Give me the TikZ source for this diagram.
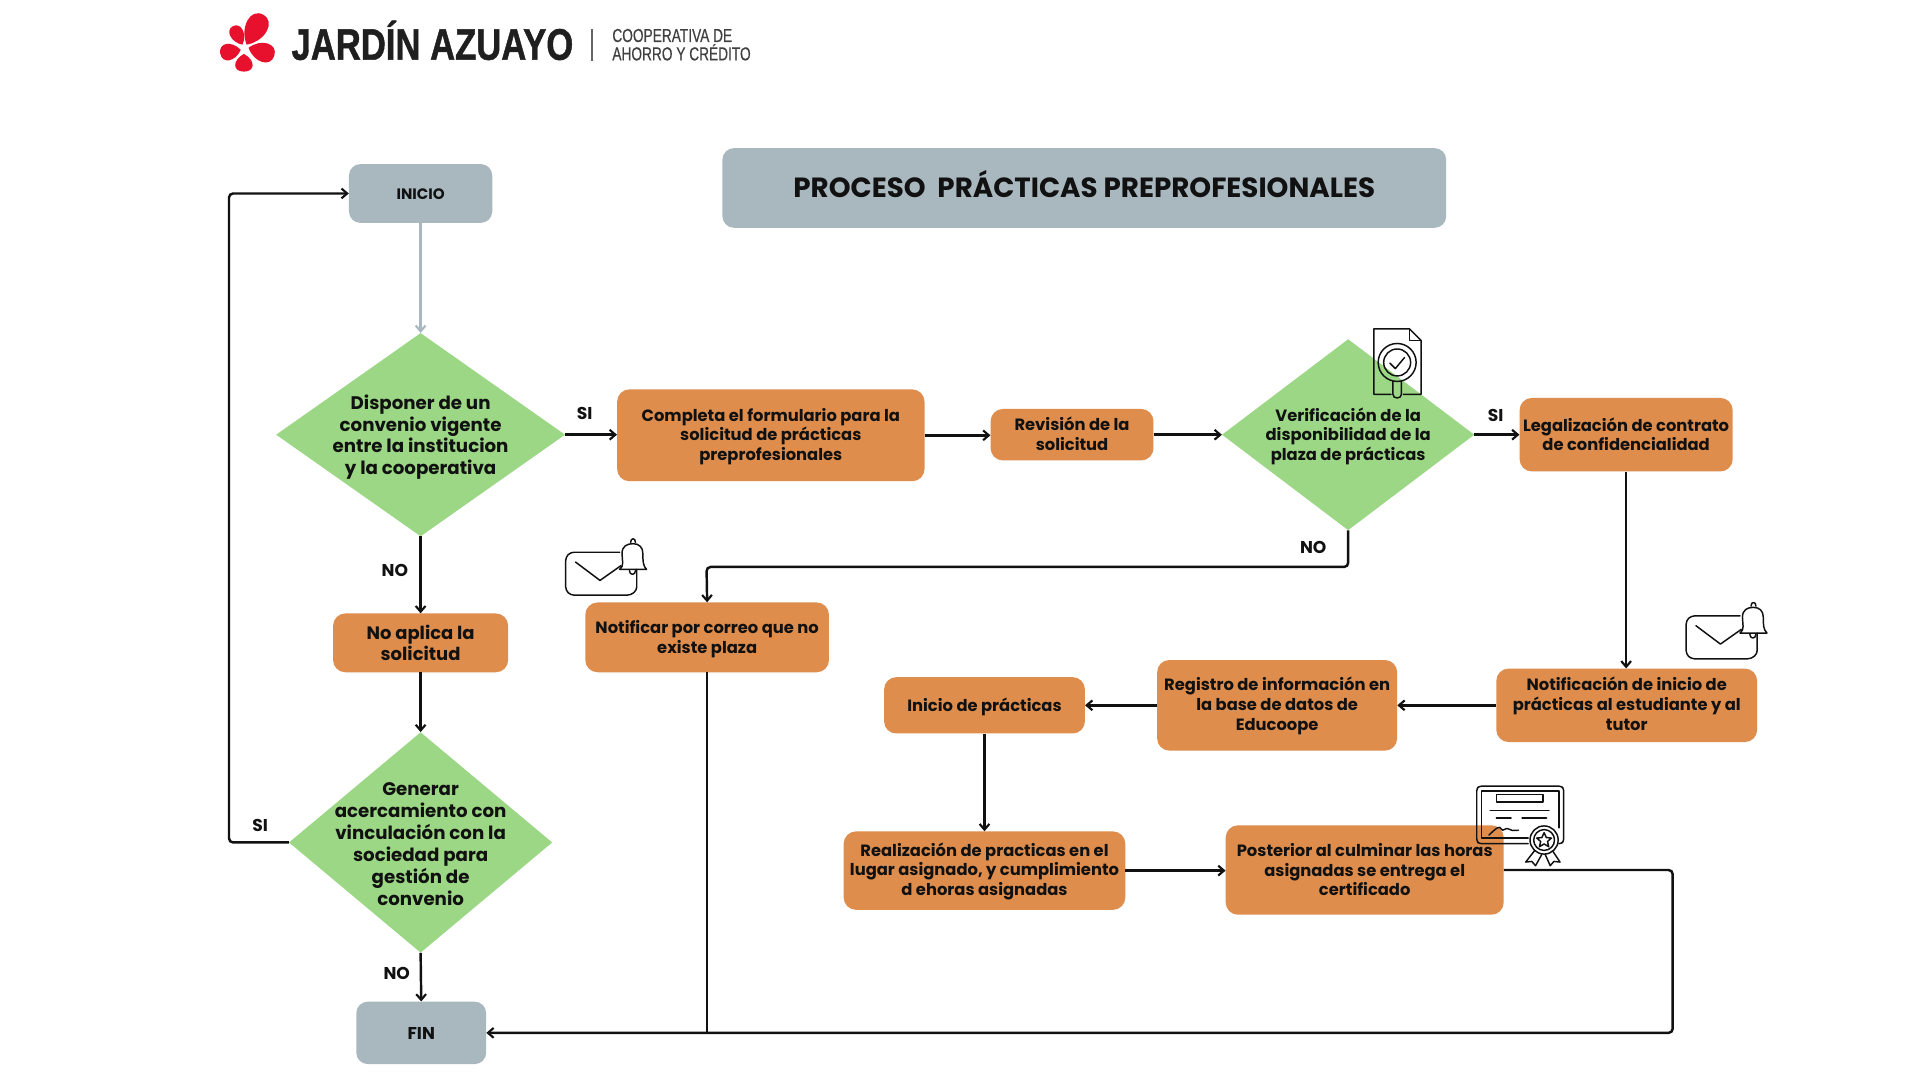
\documentclass[tikz,border=0pt]{standalone}
\usepackage{fontspec}
\setmainfont{Poppins}
\newfontfamily\logofont[BoldFeatures={FakeBold=1.2}]{Liberation Sans}
\newfontfamily\lemafont[FakeBold=0.5]{Liberation Sans}
\usetikzlibrary{shapes.geometric,arrows.meta}
\definecolor{gris}{HTML}{A9B7BF}
\definecolor{naranja}{HTML}{DE8D4D}
\definecolor{verde}{HTML}{9BD784}
\definecolor{rojo}{HTML}{E8112D}
\definecolor{tinta}{HTML}{111111}
\newcommand\fs[2]{\fontsize{#1pt}{#2pt}\selectfont\bfseries}
\newcommand\rz[2]{\raisebox{#1}[\height][\depth]{\begin{tabular}{@{}c@{}}#2\end{tabular}}}
\newcommand\shp[7]{%
 \pgfmathsetmacro\myx{(#3+#5)/2}\pgfmathsetmacro\myy{(#4+#6)/2}%
 \pgfmathsetmacro\myw{(#5-#3)*1.5}\pgfmathsetmacro\myh{(#6-#4)*1.5}%
 \node[#2,minimum width=\myw pt,minimum height=\myh pt] (#1) at (\myx,\myy) {#7};}
\newcommand\dia[7]{%
 \pgfmathsetmacro\myw{#4*3}\pgfmathsetmacro\myh{#5*3}%
 \node[decision,minimum width=\myw pt,minimum height=\myh pt,
   label={[diatext,#7]center:{#6}}] (#1) at (#2,#3) {};}
\newcommand\petal[5]{\fill[rojo,shift={(#1,#2)},rotate=#3] (0,0) .. controls (#5,.35*#4) and (#5,#4) .. (0,#4) .. controls (-#5,#4) and (-#5,.35*#4) .. (0,0) -- cycle;}
\newcommand\mailbell[2]{%
 \begin{scope}[shift={(#1,#2)},icon]
  \draw[rounded corners=4] (506,451) -- (466,451) -- (462,455) -- (462,482) -- (466,486) -- (515,486) -- (520,482) -- (520,465);
  \draw (470,459) -- (490,474) -- (507,462);
  \draw (506,465) .. controls (510,462) and (508,458) .. (508,452) .. controls (508,446) and (512,444) .. (517,444) .. controls (522,444) and (525,447) .. (525,452) .. controls (525,458) and (525,462) .. (528,465) -- cycle;
  \draw (515,443) .. controls (515,439) and (519,439) .. (519,443);
  \draw (514,466) .. controls (514,470) and (519,470) .. (519,466);
 \end{scope}}
\tikzset{
 x=1.5pt,y=-1.5pt,
 every node/.style={text=tinta,font=\fs{20}{24}},
 term/.style={fill=gris,rounded corners=14pt,inner sep=0pt,align=center},
 proc/.style={fill=naranja,rounded corners=15pt,inner sep=0pt,align=center},
 decision/.style={diamond,fill=verde,inner sep=0pt},
 diatext/.style={align=center,inner sep=0pt},
 link/.style={draw=tinta,line width=3pt,rounded corners=5pt,-{Straight Barb[length=7pt,width=12pt,line width=2.6pt]}},
 plain/.style={draw=tinta,line width=3pt,rounded corners=5pt},
 pale/.style={draw=gris,line width=3pt,-{Straight Barb[length=7pt,width=12pt,line width=2.6pt]}},
 tag/.style={font=\fs{21}{24}},
 icon/.style={draw=tinta,line width=1.8pt,line join=round,line cap=round},
 logotype/.style={anchor=west,text=#1,inner sep=0pt},
}
\begin{document}
\begin{tikzpicture}
\useasboundingbox[fill=white] (0,0) rectangle (1568,882);
% logo
\petal{201.4}{36.5}{151}{28}{12}
\petal{198}{36.5}{207}{17}{7.5}
\petal{196.6}{40.7}{280}{17}{9}
\petal{199.2}{44}{0}{14.5}{9.5}
\petal{203}{39}{73}{22}{10.5}
\node[logotype=black!88,xscale=.786,font=\logofont\fontsize{54pt}{54pt}\selectfont\bfseries] (marca) at (238,33) {JARDÍN AZUAYO};
\node[logotype=black!75,xscale=.73,font=\lemafont\fontsize{23pt}{22.5pt}\selectfont,align=left] (lema) at (500,36.5) {COOPERATIVA DE\\AHORRO Y CRÉDITO};
\fill[black!60] (482.5,24) rectangle (484,50);
% terminals
\shp{inicio}{term,font=\fs{18.5}{22}}{285}{134}{402}{182}{\rz{-2.9pt}{INICIO}}
\shp{titulo}{term,font=\fs{34}{40}}{590}{121}{1181}{186}{\rz{-1.5pt}{PROCESO\ \ PRÁCTICAS PREPROFESIONALES}}
\shp{fin}{term,font=\fs{21}{24}}{291}{818}{397}{869}{\rz{-3.7pt}{FIN}}
% decisions
\dia{d1}{343.5}{355}{118}{83}{Disponer de un\\convenio vigente\\entre la institucion\\y la cooperativa}{font=\fs{22.3}{26.4},yshift=-3pt}
\dia{d2}{1101}{355}{103}{78}{Verificación de la\\disponibilidad de la\\plaza de prácticas}{font=\fs{20}{24},yshift=-2pt}
\dia{d3}{343.5}{688}{107.5}{90}{Generar\\acercamiento con\\vinculación con la\\sociedad para\\gestión de\\convenio}{font=\fs{22.3}{27},yshift=-2pt}
% processes
\shp{completa}{proc}{504}{318}{755}{393}{\rz{-2pt}{Completa el formulario para la\\solicitud de prácticas\\preprofesionales}}
\shp{revision}{proc}{809}{334}{942}{376}{\rz{-2.3pt}{Revisión de la\\solicitud}}
\shp{legal}{proc}{1241}{325}{1415}{385}{\rz{-3pt}{Legalización de contrato\\de confidencialidad}}
\shp{noaplica}{proc,font=\fs{22}{25}}{272}{501}{415}{549}{No aplica la\\solicitud}
\shp{notplaza}{proc}{478}{492}{677}{549}{\rz{-2.5pt}{Notificar por correo que no\\existe plaza}}
\shp{notinicio}{proc}{1222}{546}{1435}{606}{\rz{-1.5pt}{Notificación de inicio de\\prácticas al estudiante y al\\tutor}}
\shp{registro}{proc}{945}{539}{1141}{613}{\rz{-1.5pt}{Registro de información en\\la base de datos de\\Educoope}}
\shp{iniprac}{proc}{722}{553}{886}{599}{\rz{-2.2pt}{Inicio de prácticas}}
\shp{realiz}{proc}{689}{679}{919}{743}{\rz{-1.5pt}{Realización de practicas en el\\lugar asignado, y cumplimiento\\d ehoras asignadas}}
\shp{posterior}{proc}{1001}{674}{1228}{747}{\rz{-2.8pt}{Posterior al culminar las horas\\asignadas se entrega el\\certificado}}
% connectors
\coordinate (cruce) at (notplaza.south |- fin.east);
\draw[pale] (inicio) -- (d1.north);
\draw[link] (d1.east) -- (d1.east -| completa.west);
\draw[link] (completa.east) -- (completa.east -| revision.west);
\draw[link] (revision.east) -- (revision.east -| d2.west);
\draw[link] (d2.east) -- (d2.east -| legal.west);
\draw[link] (d2.south) |- (577,463) -- (notplaza.north);
\draw[link] (legal.south) -- (legal.south |- notinicio.north);
\draw[link] (notinicio.west) -- (notinicio.west -| registro.east);
\draw[link] (registro.west) -- (registro.west -| iniprac.east);
\draw[link] (iniprac.south) -- (iniprac.south |- realiz.north);
\draw[link] (realiz.east) -- (realiz.east -| posterior.west);
\draw[link] (posterior.east) -| (1366,843.5) -- (fin.east);
\draw[plain] (notplaza.south) -- (cruce);
\draw[link] (d1.south) -- (noaplica.north);
\draw[link] (noaplica.south) -- (d3.north);
\draw[link] (d3.south) -- (fin.north);
\draw[link] (d3.west) -| (187,158) -- (inicio.west);
% labels
\node[tag] (si1) at (477.5,338) {SI};
\node[tag] (si2) at (1221.5,339.5) {SI};
\node[tag] (si3) at (212.5,674) {SI};
\node[tag] (no1) at (322.5,466) {NO};
\node[tag] (no2) at (1072.5,447) {NO};
\node[tag] (no3) at (324,795) {NO};
% document icon
\begin{scope}[icon]
 \draw (1136,322) -- (1122,322) -- (1122,268.5) -- (1151,268.5) -- (1160.5,278) -- (1160.5,322) -- (1146,322);
 \draw (1151,268.5) -- (1151,278) -- (1160.5,278);
 \draw (1141,296) circle (15.5);
 \draw (1141,296) circle (11);
 \draw (1135,296.5) -- (1139.5,301) -- (1147,292);
 \draw (1137.5,311) -- (1137.5,322) .. controls (1137.5,326) and (1144.5,326) .. (1144.5,322) -- (1144.5,311);
\end{scope}
% mail + bell icons
\mailbell{0}{0}
\mailbell{915}{52}
% certificate icon
\begin{scope}[icon]
 \draw[rounded corners=3] (1248,689) -- (1208,689) -- (1206,687) -- (1206,644) -- (1208,642) -- (1275,642) -- (1277,644) -- (1277,687) -- (1275,689) -- (1273,689);
 \draw (1248,684.5) -- (1210,684.5) -- (1210,646) -- (1273,646) -- (1273,676);
 \draw (1222,649) rectangle (1260,655);
 \draw (1217,662) -- (1265,662);
 \draw (1222,668) -- (1234,668);
 \draw (1243,668) -- (1263,668);
 \draw (1216,682) .. controls (1222,676) and (1225,674) .. (1226,677) .. controls (1227,680) and (1230,675) .. (1232,677) .. controls (1234,679) and (1236,678) .. (1240,678);
 \draw[fill=white] (1261,686) circle (11.5);
 \draw (1261,686) circle (8.5);
 \draw (1261,680) -- (1262.8,684) -- (1267,684.4) -- (1263.8,687.2) -- (1264.8,691.5) -- (1261,689.2) -- (1257.2,691.5) -- (1258.2,687.2) -- (1255,684.4) -- (1259.2,684) -- cycle;
 \draw (1253,695) -- (1246,704) -- (1251,703.5) -- (1254,707) -- (1259,698);
 \draw (1268,695) -- (1274,704) -- (1269,703.5) -- (1266,707) -- (1262,698);
\end{scope}
\end{tikzpicture}
\end{document}
